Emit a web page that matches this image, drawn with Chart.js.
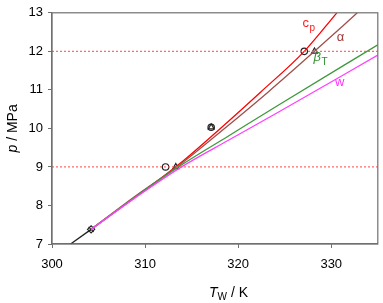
<!DOCTYPE html>
<html>
<head>
<meta charset="utf-8">
<script src="https://cdn.jsdelivr.net/npm/chart.js@4/dist/chart.umd.min.js"></script>
<style>
  html, body { margin: 0; padding: 0; background: #fff; }
  #wrap { width: 383px; height: 303px; }
</style>
</head>
<body>
<div id="wrap"><canvas id="myGraph" width="383" height="303"></canvas></div>
<script>
// values (T in K, p in MPa)
const cpT = [304.2, 310, 313.7, 318, 322.4, 327.1, 330.6];
const cpP = [7.38, 8.4, 9.08, 9.98, 10.94, 12.0, 13.0];
const alphaT = [304.2, 309, 313.7, 318.5, 323.2, 328.2, 332.8];
const alphaP = [7.38, 8.25, 9.05, 9.99, 10.94, 12.0, 13.0];
const betaT = [304.2, 309, 313.7, 319, 324.3, 335];
const betaP = [7.38, 8.23, 9.02, 9.81, 10.6, 12.17];
const wT = [304.2, 309, 313.7, 319, 324.3, 335];
const wP = [7.38, 8.21, 8.97, 9.7, 10.42, 11.9];
const startT = [302.0, 304.2];
const startP = [7.0, 7.38];

const circleT = [327.1, 312.2, 317.1];
const circleP = [12.0, 9.0, 10.03];
const triangleT = [328.2, 313.3, 317.1];
const triangleP = [12.0, 9.0, 10.03];
const squareT = [304.2];
const squareP = [7.38];

const refP = [9, 12];
const xTicks = [300, 310, 320, 330];
const yTicks = [7, 8, 9, 10, 11, 12, 13];

const pts = (xs, ys) => xs.map((x, i) => ({ x: x, y: ys[i] }));

const curveLabels = [
  { text: "c", sub: "p", T: 326.9, p: 12.64, color: "#ff1a1a" },
  { text: "\u03b1", sub: "", T: 330.6, p: 12.27, color: "#a33b3b" },
  { text: "\u03b2", sub: "T", T: 328.1, p: 11.75, color: "#2f8f2f", italic: true },
  { text: "w", sub: "", T: 330.4, p: 11.1, color: "#ff33ff" }
];

const lineSet = (data, color) => ({
  data: data,
  showLine: true,
  borderColor: color,
  borderWidth: 1.3,
  pointRadius: 0,
  cubicInterpolationMode: "monotone",
  fill: false
});

const markerSet = (data, style, r) => ({
  data: data,
  showLine: false,
  pointStyle: style,
  pointRadius: r,
  pointBorderColor: "#222",
  pointBackgroundColor: "rgba(255,255,255,0)",
  pointBorderWidth: 1.2
});

const datasets = [];
refP.forEach((p) => {
  datasets.push({
    data: [{ x: 300, y: p }, { x: 335, y: p }],
    showLine: true,
    borderColor: "rgba(255,90,90,0.9)",
    borderWidth: 1.3,
    borderDash: [2, 2],
    pointRadius: 0
  });
});
datasets.push(lineSet(pts(wT, wP), "#ff40ff"));
datasets.push(lineSet(pts(betaT, betaP), "#3c9a3c"));
datasets.push(lineSet(pts(alphaT, alphaP), "#a0504c"));
datasets.push(lineSet(pts(cpT, cpP), "#ff0000"));
datasets.push(lineSet(pts(startT, startP), "#222"));
datasets.push(markerSet(pts(circleT, circleP), "circle", 3.2));
datasets.push(markerSet(pts(triangleT, triangleP), "triangle", 3.4));
datasets.push(markerSet(pts(squareT, squareP), "rectRot", 3.6));
datasets.push(markerSet(pts(squareT, squareP), "crossRot", 3.6));

const FONT = "'Liberation Sans', Arial, sans-serif";

const decorations = {
  id: "decorations",
  afterDraw(chart) {
    const ctx = chart.ctx;
    const a = chart.chartArea;
    const xs = chart.scales.x, ys = chart.scales.y;
    ctx.save();
    // frame
    ctx.strokeStyle = "#707070";
    ctx.lineWidth = 1.2;
    ctx.strokeRect(a.left, a.top, a.right - a.left, a.bottom - a.top);

    // curve labels
    curveLabels.forEach((l) => {
      const x = xs.getPixelForValue(l.T);
      const y = ys.getPixelForValue(l.p);
      ctx.fillStyle = l.color;
      ctx.textBaseline = "alphabetic";
      ctx.textAlign = "left";
      ctx.font = (l.italic ? "italic " : "") + "13px " + FONT;
      ctx.fillText(l.text, x, y);
      if (l.sub) {
        const w = ctx.measureText(l.text).width;
        ctx.font = "10px " + FONT;
        ctx.fillText(l.sub, x + w + 0.5, y + 4);
      }
    });

    // x title: T_W / K
    ctx.fillStyle = "#000";
    ctx.textBaseline = "alphabetic";
    ctx.textAlign = "left";
    let tx = 209, ty = 297;
    ctx.font = "italic 14px " + FONT;
    ctx.fillText("T", tx, ty);
    tx += ctx.measureText("T").width;
    ctx.font = "10px " + FONT;
    ctx.fillText("W", tx, ty + 3);
    tx += ctx.measureText("W").width;
    ctx.font = "14px " + FONT;
    ctx.fillText(" / K", tx, ty);

    // y title: p / MPa (rotated)
    ctx.translate(17, (a.top + a.bottom) / 2);
    ctx.rotate(-Math.PI / 2);
    ctx.font = "italic 14px " + FONT;
    const w1 = ctx.measureText("p").width;
    ctx.font = "14px " + FONT;
    const w2 = ctx.measureText(" / MPa").width;
    let sx = -(w1 + w2) / 2;
    ctx.font = "italic 14px " + FONT;
    ctx.fillText("p", sx, 0);
    ctx.font = "14px " + FONT;
    ctx.fillText(" / MPa", sx + w1, 0);
    ctx.restore();
  }
};

new Chart(document.getElementById("myGraph").getContext("2d"), {
  type: "scatter",
  data: { datasets: datasets },
  options: {
    responsive: false,
    animation: false,
    layout: { padding: { top: 9, right: 3, left: 0, bottom: 0 } },
    plugins: { legend: { display: false }, tooltip: { enabled: false } },
    scales: {
      x: {
        type: "linear",
        min: 300,
        max: 335,
        afterBuildTicks: (s) => { s.ticks = xTicks.map((v) => ({ value: v })); },
        afterFit: (s) => { s.height = 59; },
        grid: { drawOnChartArea: false, drawTicks: true, tickLength: 4, color: "#707070" },
        border: { color: "#707070", width: 1.2 },
        ticks: { color: "#000", font: { family: FONT, size: 13 }, padding: 9, maxRotation: 0 }
      },
      y: {
        type: "linear",
        min: 7,
        max: 13,
        afterBuildTicks: (s) => { s.ticks = yTicks.map((v) => ({ value: v })); },
        afterFit: (s) => { s.width = 52; },
        grid: { drawOnChartArea: false, drawTicks: true, tickLength: 4, color: "#707070" },
        border: { color: "#707070", width: 1.2 },
        ticks: { color: "#000", font: { family: FONT, size: 13 }, padding: 5 }
      }
    }
  },
  plugins: [decorations]
});
</script>
</body>
</html>
